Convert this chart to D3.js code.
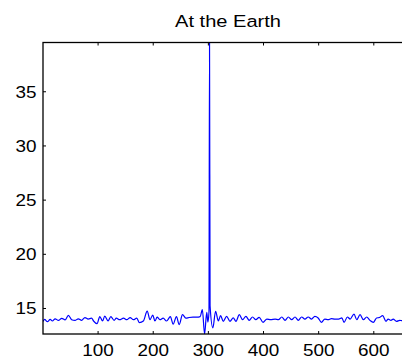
<!DOCTYPE html>
<html>
<head>
<meta charset="utf-8">
<script src="https://cdn.jsdelivr.net/npm/d3@7"></script>
<style>
  body { margin: 0; background: #fff; }
  svg { display: block; font-family: "Liberation Sans", Arial, Helvetica, sans-serif; }
</style>
</head>
<body>
<svg id="chart" width="402" height="363"></svg>
<script>
// values
const titleText = "At the Earth";

const sampleIndex = [
  1, 4, 9, 14, 18, 23, 29, 35, 41, 47, 53, 59, 65, 71, 77, 83, 89, 93, 99, 104,
  109, 113, 119, 124, 130, 134, 140, 147, 153, 159, 165, 171, 176, 183, 190, 195, 200, 204, 208, 213,
  219, 225, 232, 237, 243, 248, 254, 260, 266, 273, 280, 286, 290, 294, 298, 300, 302, 303, 304, 309,
  314, 319, 323, 328, 334, 340, 346, 351, 357, 363, 369, 375, 381, 387, 393, 400, 407, 414, 422, 428,
  434, 440, 446, 452, 458, 464, 470, 476, 482, 488, 494, 500, 506, 512, 518, 524, 530, 537, 543, 547,
  553, 558, 565, 570, 576, 582, 588, 594, 600, 606, 611, 617, 623, 627, 632, 636, 642, 648, 652, 658
];

const intensity = [
  13.75, 13.95, 13.74, 13.95, 13.80, 14.00, 13.85, 14.05, 13.90, 14.32, 13.92, 13.85, 14.00, 13.86, 14.12, 13.98, 14.06, 13.78, 13.55, 14.20,
  13.80, 14.25, 13.80, 14.20, 13.86, 14.06, 13.92, 14.06, 13.92, 14.12, 13.92, 14.06, 13.65, 13.80, 14.72, 13.92, 14.35, 13.80, 14.15, 13.92,
  14.06, 13.80, 14.20, 13.50, 14.20, 13.46, 14.38, 14.06, 14.12, 14.15, 14.15, 14.20, 14.85, 12.60, 14.60, 13.70, 14.60, 39.50, 15.20, 13.16,
  14.70, 13.80, 14.29, 13.77, 14.23, 13.77, 14.08, 13.77, 14.38, 13.92, 14.23, 13.86, 14.17, 13.92, 14.14, 13.68, 13.98, 13.92, 13.98, 13.92,
  14.17, 13.86, 14.17, 13.92, 14.17, 13.86, 14.17, 13.98, 14.17, 13.98, 14.23, 14.08, 13.68, 13.98, 13.92, 14.01, 13.98, 13.98, 14.08, 13.68,
  14.17, 13.98, 14.44, 13.92, 14.38, 13.92, 14.17, 13.86, 13.68, 14.08, 14.12, 14.29, 13.77, 13.98, 13.86, 13.98, 13.77, 13.86, 13.83, 13.90
];

const xTicks = [100, 200, 300, 400, 500, 600];
const yTicks = [15, 20, 25, 30, 35];
const xDomain = [1, 672];
const yDomain = [12.6, 39.5];

const margin = { top: 42.5, right: -11, bottom: 29, left: 43 };
const width = 402, height = 363;
const innerW = width - margin.left - margin.right;
const innerH = height - margin.top - margin.bottom;

// the reference lettering is a little wider than plain Arial
const stretch = 1.18;

const svg = d3.select("#chart");

const x = d3.scaleLinear().domain(xDomain).range([0, innerW]);
const y = d3.scaleLinear().domain(yDomain).range([innerH, 0]);

const g = svg.append("g")
  .attr("transform", `translate(${margin.left},${margin.top})`);

g.append("clipPath").attr("id", "plotClip")
  .append("rect").attr("width", innerW).attr("height", innerH);

const points = sampleIndex.map((d, i) => [d, intensity[i]]);

const line = d3.line()
  .x(d => x(d[0]))
  .y(d => y(d[1]))
  .curve(d3.curveMonotoneX);

g.append("path")
  .datum(points)
  .attr("clip-path", "url(#plotClip)")
  .attr("fill", "none")
  .attr("stroke", "#0000ff")
  .attr("stroke-width", 1.2)
  .attr("d", line);

// axes, matlab style: ticks point inward
const tickLen = 3;
const axisFont = 16;

const bottom = g.append("g")
  .attr("transform", `translate(0,${innerH})`)
  .call(d3.axisBottom(x).tickValues(xTicks).tickSizeInner(-tickLen).tickSizeOuter(0).tickPadding(0));
bottom.selectAll("text")
  .attr("y", 22.5).attr("dy", null)
  .attr("font-size", axisFont)
  .attr("transform", `scale(${stretch},1)`);

g.append("g")
  .call(d3.axisTop(x).tickValues(xTicks).tickSizeInner(-tickLen).tickSizeOuter(0).tickFormat(""));

const left = g.append("g")
  .call(d3.axisLeft(y).tickValues(yTicks).tickSizeInner(-tickLen).tickSizeOuter(0).tickPadding(0));
left.selectAll("text")
  .attr("x", -6.5 / stretch).attr("dy", "0.36em")
  .attr("font-size", axisFont)
  .attr("transform", `scale(${stretch},1)`);

g.append("g")
  .attr("transform", `translate(${innerW},0)`)
  .call(d3.axisRight(y).tickValues(yTicks).tickSizeInner(-tickLen).tickSizeOuter(0).tickFormat(""));

g.selectAll(".domain").remove();
g.selectAll(".tick line").attr("stroke", "#000").attr("stroke-width", 1);
g.selectAll(".tick text").attr("fill", "#000").attr("font-family", null);

g.append("rect")
  .attr("width", innerW)
  .attr("height", innerH)
  .attr("fill", "none")
  .attr("stroke", "#000")
  .attr("stroke-width", 1.3);

svg.append("text")
  .attr("x", (margin.left + innerW / 2) / stretch)
  .attr("y", 27)
  .attr("text-anchor", "middle")
  .attr("font-size", 17)
  .attr("fill", "#000")
  .attr("transform", `scale(${stretch},1)`)
  .text(titleText);
</script>
</body>
</html>
